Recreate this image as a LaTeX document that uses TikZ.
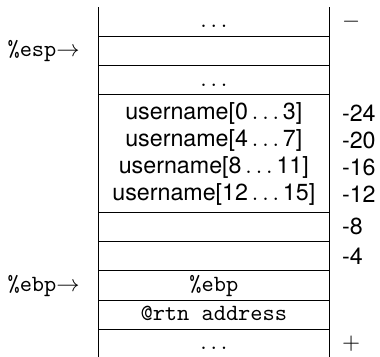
\documentclass[tikz,border=0pt]{standalone}
\usepackage{fontspec}
\setmainfont{TeX Gyre Heros}
\usetikzlibrary{positioning}

\begin{document}
\begin{tikzpicture}[
    cell/.style={minimum width=3.5cm, minimum height=0.443cm, inner sep=0pt, outer sep=0pt, align=center},
    slot/.style={cell, text height=7pt, text depth=2pt},
    lines/.style={font=\fontsize{10}{11.6}\selectfont},
    offs/.style={anchor=west, inner sep=0pt},
    reg/.style={inner sep=0pt, font=\ttfamily}
]
\useasboundingbox (-1.481,0.106) rectangle (4.261,-5.274);

% the stack, top to bottom
\node[slot, anchor=north west] (top) at (0,0) {$\ldots$};
\node[slot, below=0pt of top] (esp) {};
\node[slot, below=0pt of esp] (gap) {$\ldots$};
\node[cell, lines, minimum height=1.772cm, below=0pt of gap] (user) {
    username[0\,$\ldots$\,3]\\
    username[4\,$\ldots$\,7]\\
    username[8\,$\ldots$\,11]\\
    username[12\,$\ldots$\,15]
};
\node[slot, below=0pt of user] (m8) {};
\node[slot, below=0pt of m8] (m4) {};
\node[slot, below=0pt of m4, font=\ttfamily] (ebp) {\%ebp};
\node[slot, below=0pt of ebp, font=\ttfamily] (rtn) {@rtn address};
\node[slot, below=0pt of rtn] (bot) {$\ldots$};

\foreach \r in {top,esp,gap,user,m8,m4,ebp,rtn}
    \draw (\r.south west) -- (\r.south east);
\draw (top.north west) -- (bot.south west);
\draw (top.north east) -- (bot.south east);

% registers
\node[reg, left=0.27cm of esp] (esplbl) {\%esp$\rightarrow$};
\node[reg, left=0.27cm of ebp] (ebplbl) {\%ebp$\rightarrow$};

% offsets
\node[offs, right=0.18cm of top] (minus) {$-$};
\node[offs, lines, right=0.18cm of user, align=left] (uoffs) {-24\\-20\\-16\\-12};
\node[offs, right=0.18cm of m8] (o8) {-8};
\node[offs, right=0.18cm of m4] (o4) {-4};
\node[offs, right=0.18cm of bot] (plus) {$+$};
\end{tikzpicture}
\end{document}
